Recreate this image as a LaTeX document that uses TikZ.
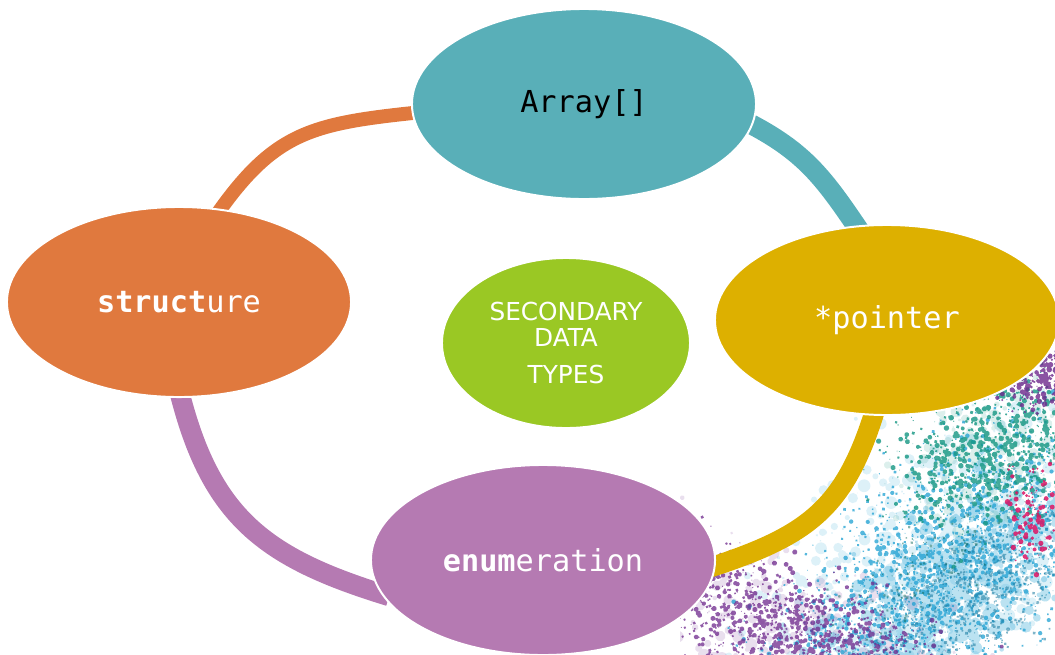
\documentclass[tikz,border=0pt]{standalone}
\usepackage{fontspec}
\newfontfamily\monofont{DejaVu Sans Mono}
\newfontfamily\labelfont{DejaVu Sans}
\usetikzlibrary{shapes.geometric,backgrounds}

\definecolor{arraycol}{HTML}{59AFB8}
\definecolor{structcol}{HTML}{E0793E}
\definecolor{pointercol}{HTML}{DDB000}
\definecolor{enumcol}{HTML}{B57AB2}
\definecolor{secondcol}{HTML}{9AC824}
\definecolor{splashblue}{HTML}{1EA0D2}
\definecolor{splashpurple}{HTML}{6E288C}
\definecolor{splashgreen}{HTML}{149682}
\definecolor{splashpink}{HTML}{DC1464}

\tikzset{
  typebox/.style={ellipse, draw=white, line width=1.4pt, inner sep=0pt, outer sep=0pt,
    minimum width=8.6cm, minimum height=4.75cm, text=white,
    font=\monofont\fontsize{21.5}{24}\selectfont},
  centrebox/.style={ellipse, draw=white, line width=1.4pt, inner sep=0pt, outer sep=0pt,
    minimum width=6.2cm, minimum height=4.25cm, fill=secondcol, text=white, align=center,
    font=\labelfont\fontsize{17.6}{22}\selectfont},
  ring/.style={line width=14.2pt, shorten <=-5pt, shorten >=-5pt},
}

% #1 colour, #2 count, #3 opacity, #4 size, #5 centre, #6 long spread, #7 short spread, #8 angle
\newcommand{\speckle}[8]{%
  \fill[#1, opacity=#3, shift={#5}, rotate=#8]
    \foreach \i in {1,...,#2}{
      ({#6*(rand+rand+rand)/3},{#7*(rand+rand+rand)/3}) circle ({.4+#4*rnd})
    };}

\begin{document}
\begin{tikzpicture}[x=0.025cm, y=-0.025cm]
  \useasboundingbox (0,0) rectangle (1055,654);

  \node[typebox, fill=arraycol, text=black] (array) at (584,104) {Array[]};
  \node[typebox, fill=structcol] (structure) at (179,302) {\textbf{struct}ure};
  \node[typebox, fill=pointercol] (pointer) at (887,320) {*pointer};
  \node[typebox, fill=enumcol] (enumeration) at (543,560) {\textbf{enum}eration};
  \node[centrebox] (secondary) at (566,343) {SECONDARY\\[-3.6pt]DATA\\[4.2pt]TYPES};

  \begin{scope}[on background layer]
    % paint splash
    \begin{scope}
      \clip (680,330) rectangle (1055,654);
      \pgfmathsetseed{11}
      \speckle{splashblue}{700}{.15}{6}{(930,560)}{340}{170}{40}
      \speckle{splashblue}{700}{.3}{6}{(960,585)}{230}{110}{40}
      \speckle{splashpurple}{250}{.15}{6}{(790,628)}{240}{100}{-20}
      \speckle{splashgreen}{200}{.15}{6}{(995,445)}{150}{100}{30}
      \speckle{splashblue}{2200}{.75}{2}{(945,570)}{300}{140}{40}
      \speckle{splashblue!75!black}{900}{.55}{1.6}{(975,600)}{220}{90}{40}
      \speckle{splashgreen!70!black}{200}{.5}{1.4}{(940,560)}{160}{60}{40}
      \speckle{splashpurple}{1200}{.75}{2.2}{(790,628)}{230}{90}{-20}
      \speckle{splashgreen}{900}{.8}{2.4}{(995,445)}{150}{100}{30}
      \speckle{splashpurple}{250}{.8}{2.4}{(1045,380)}{55}{50}{0}
      \speckle{splashpink}{110}{.85}{2.4}{(1030,515)}{35}{75}{0}
    \end{scope}

    % cycle ring
    \draw[ring, structcol, line width=9.9pt] (array.183)
      to[out=186, in=55, out distance=72pt, in distance=68pt] (structure.66);
    \draw[ring, arraycol] (array.353)
      to[out=-27, in=124, out distance=42pt, in distance=42pt] (pointer.108);
    \draw[ring, pointercol] (pointer.262)
      to[out=253, in=18, out distance=70pt, in distance=70pt] (enumeration.358);
    \draw[ring, enumcol] (structure.271)
      to[out=-76, in=163, out distance=88pt, in distance=88pt] (enumeration.192);
  \end{scope}
\end{tikzpicture}
\end{document}
